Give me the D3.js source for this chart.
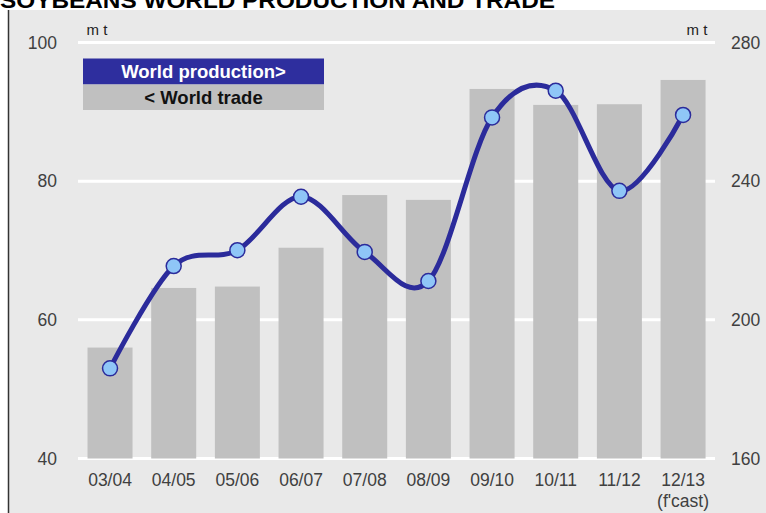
<!DOCTYPE html>
<html>
<head>
<meta charset="utf-8">
<script src="https://cdn.jsdelivr.net/npm/d3@7"></script>
<style>
body{margin:0;background:#fff;}
svg{display:block;font-family:"Liberation Sans",Arial,sans-serif;}
</style>
</head>
<body>
<svg id="c" width="766" height="513"></svg>
<script>
const categories = ["03/04","04/05","05/06","06/07","07/08","08/09","09/10","10/11","11/12","12/13"];
const tradeValues = [56.0,64.6,64.8,70.4,78.0,77.3,93.3,91.0,91.1,94.6];
const productionValues = [186.0,215.5,220.1,235.5,219.6,211.2,258.4,266.1,237.2,259.1];
const leftTicks = [40,60,80,100];
const rightTicks = [160,200,240,280];
const titleText = "SOYBEANS WORLD PRODUCTION AND TRADE";
const unitLabel = "m t";
const legendLabels = ["World production>","< World trade"];
const forecastNote = "(f'cast)";

const svg = d3.select("#c");
const W=766,H=513;
const plotTop=42.5, plotBottom=458.5;

// background panel
svg.append("rect").attr("x",8).attr("y",10).attr("width",W-8).attr("height",H-10).attr("fill","#e9e9e9");
svg.append("line").attr("x1",8.5).attr("x2",8.5).attr("y1",10).attr("y2",H).attr("stroke","#333").attr("stroke-width",1.5);

// title (clipped at top, as in the source image)
svg.append("text").attr("x",0).attr("y",8).attr("font-size",22).attr("font-weight","bold")
  .attr("fill","#000").attr("textLength",555).attr("lengthAdjust","spacingAndGlyphs").text(titleText);

const x = d3.scaleBand().domain(categories).range([78.2,714.9]).paddingInner(0.293).paddingOuter(0.1465);
const yL = d3.scaleLinear().domain([40,100]).range([plotBottom,plotTop]);
const yR = d3.scaleLinear().domain([160,280]).range([plotBottom,plotTop]);

// gridlines
svg.append("g").selectAll("line").data(leftTicks).join("line")
  .attr("x1",78).attr("x2",715).attr("y1",d=>yL(d)).attr("y2",d=>yL(d))
  .attr("stroke","#fff").attr("stroke-width",3);

// left axis
const gl = svg.append("g").attr("transform","translate(57,0)")
  .call(d3.axisLeft(yL).tickValues(leftTicks).tickSize(0).tickPadding(0));
gl.select(".domain").remove();
gl.selectAll("text").attr("font-size",17.5).attr("fill","#404040").attr("font-family","Liberation Sans, Arial, sans-serif");

// right axis
const gr = svg.append("g").attr("transform","translate(731,0)")
  .call(d3.axisRight(yR).tickValues(rightTicks).tickSize(0).tickPadding(0));
gr.select(".domain").remove();
gr.selectAll("text").attr("font-size",17.5).attr("fill","#404040").attr("font-family","Liberation Sans, Arial, sans-serif");

// unit labels
svg.append("text").attr("x",97).attr("y",35).attr("text-anchor","middle").attr("font-size",15).attr("fill","#222").text(unitLabel);
svg.append("text").attr("x",697).attr("y",35).attr("text-anchor","middle").attr("font-size",15).attr("fill","#222").text(unitLabel);

// bars
svg.append("g").selectAll("rect").data(categories).join("rect")
  .attr("x",d=>x(d)).attr("width",x.bandwidth())
  .attr("y",(d,i)=>yL(tradeValues[i])).attr("height",(d,i)=>yL(40)-yL(tradeValues[i]))
  .attr("fill","#c0c0c0");

// x axis labels
const gx = svg.append("g").attr("transform",`translate(0,${plotBottom})`)
  .call(d3.axisBottom(x).tickSize(0).tickPadding(15));
gx.select(".domain").remove();
gx.selectAll("text").attr("font-size",17.5).attr("fill","#404040").attr("font-family","Liberation Sans, Arial, sans-serif");
svg.append("text").attr("x",x(categories[9])+x.bandwidth()/2).attr("y",507).attr("text-anchor","middle")
  .attr("font-size",17.5).attr("fill","#404040").text(forecastNote);

// production line
const pts = categories.map((c,i)=>[x(c)+x.bandwidth()/2, yR(productionValues[i])]);
svg.append("path").datum(pts).attr("d",d3.line().curve(d3.curveCardinal.tension(0)))
  .attr("fill","none").attr("stroke","#2b2b9b").attr("stroke-width",5);
svg.append("g").selectAll("circle").data(pts).join("circle")
  .attr("cx",d=>d[0]).attr("cy",d=>d[1]).attr("r",7.5)
  .attr("fill","#8fc6f7").attr("stroke","#2b2b9b").attr("stroke-width",1.5);

// legend
const lg = svg.append("g");
lg.append("rect").attr("x",83).attr("y",58.5).attr("width",241).attr("height",26).attr("fill","#2e2e9e");
lg.append("rect").attr("x",83).attr("y",84.5).attr("width",241).attr("height",25.5).attr("fill","#c0c0c0");
lg.append("text").attr("x",203.5).attr("y",78).attr("text-anchor","middle").attr("font-size",18.5).attr("font-weight","bold").attr("fill","#fff").text(legendLabels[0]);
lg.append("text").attr("x",203.5).attr("y",104).attr("text-anchor","middle").attr("font-size",18.5).attr("font-weight","bold").attr("fill","#111").text(legendLabels[1]);
</script>
</body>
</html>
